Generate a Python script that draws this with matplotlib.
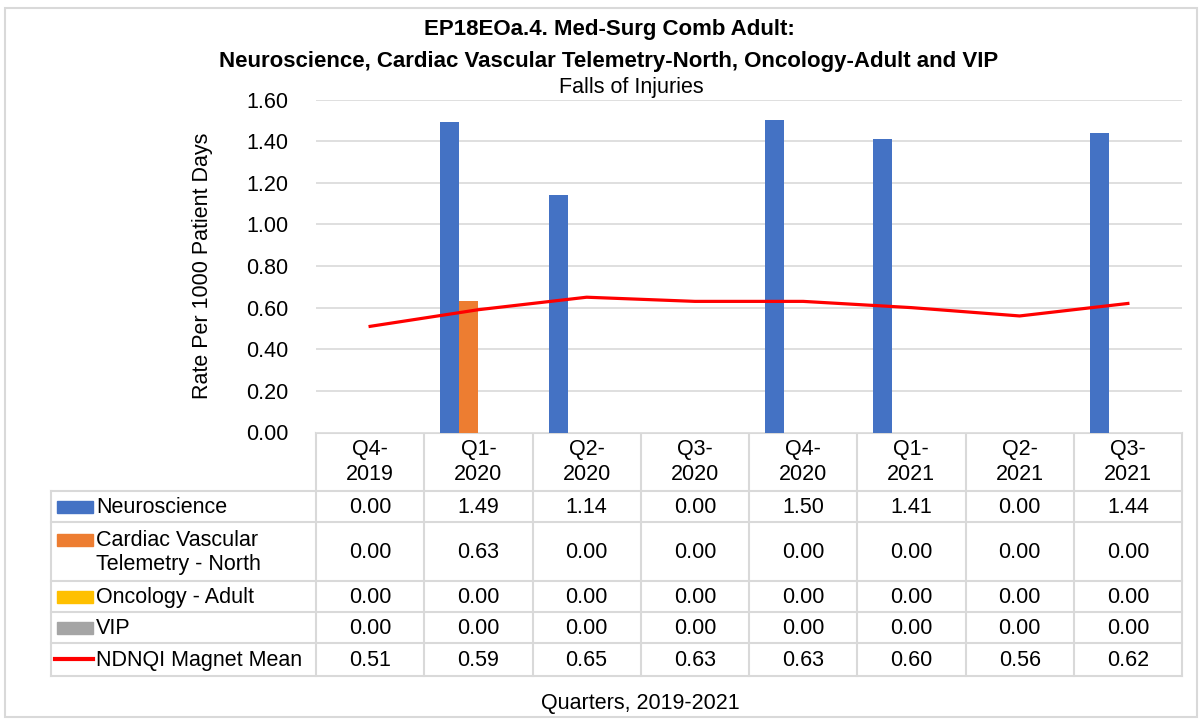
import matplotlib
matplotlib.use("Agg")
import matplotlib.pyplot as plt
import numpy as np

plt.rcParams['font.family'] = ['Liberation Sans', 'DejaVu Sans']

quarters = ["Q4-\n2019", "Q1-\n2020", "Q2-\n2020", "Q3-\n2020",
            "Q4-\n2020", "Q1-\n2021", "Q2-\n2021", "Q3-\n2021"]
neuro = [0.00, 1.49, 1.14, 0.00, 1.50, 1.41, 0.00, 1.44]
cardiac = [0.00, 0.63, 0.00, 0.00, 0.00, 0.00, 0.00, 0.00]
oncology = [0.00, 0.00, 0.00, 0.00, 0.00, 0.00, 0.00, 0.00]
vip = [0.00, 0.00, 0.00, 0.00, 0.00, 0.00, 0.00, 0.00]
ndnqi = [0.51, 0.59, 0.65, 0.63, 0.63, 0.60, 0.56, 0.62]

series_names = ["Neuroscience", "Cardiac Vascular\nTelemetry - North",
                "Oncology - Adult", "VIP", "NDNQI Magnet Mean"]
bar_colors = ["#4472C4", "#ED7D31", "#FFC000", "#A5A5A5"]
line_color = "#FF0000"
grid_col = "#D9D9D9"
fs = 15.5

W, H = 1203, 720
fig = plt.figure(figsize=(W / 100, H / 100), dpi=100)

# pixel layout
px_left, px_right = 316, 1182
px_top, px_bot = 99.5, 432.5

def fx(x):
    return x / W

def fy(y):
    return 1 - y / H

ax = fig.add_axes([fx(px_left), fy(px_bot), fx(px_right - px_left), (px_bot - px_top) / H])
x = np.arange(len(quarters))
bw = 0.176
for i, (vals, c) in enumerate(zip([neuro, cardiac, oncology, vip], bar_colors)):
    ax.bar(x + (i - 1.5) * bw, vals, width=bw, color=c, zorder=3)
ax.plot(x, ndnqi, color=line_color, lw=2.3, zorder=4)
ax.set_xlim(-0.5, len(quarters) - 0.5)
ax.set_ylim(0, 1.6)
ax.set_yticks(np.arange(0, 1.61, 0.2))
ax.set_yticklabels(["%.2f" % v for v in np.arange(0, 1.61, 0.2)], fontsize=fs)
ax.set_xticks([])
ax.grid(axis='y', color=grid_col, lw=1.2, zorder=0)
for s in ax.spines.values():
    s.set_visible(False)
ax.tick_params(axis='y', length=0, pad=20)
ax.set_ylabel("Rate Per 1000 Patient Days", fontsize=fs, labelpad=24)

# data table under the plot, in pixel coordinates
tax = fig.add_axes([0, 0, 1, 1], zorder=-1)
tax.set_xlim(0, W)
tax.set_ylim(H, 0)
tax.axis('off')

col_w = (px_right - px_left) / len(quarters)
row_y = [491, 522, 581, 612, 643, 676]
tab_left = 51

for yy in row_y:
    tax.plot([tab_left, px_right], [yy, yy], color=grid_col, lw=1.5)
tax.plot([px_left, px_right], [px_bot, px_bot], color=grid_col, lw=1.5)
tax.plot([tab_left, tab_left], [row_y[0], row_y[-1]], color=grid_col, lw=1.5)
for i in range(len(quarters) + 1):
    xx = px_left + i * col_w
    tax.plot([xx, xx], [px_bot, row_y[-1]], color=grid_col, lw=1.5)

for i, q in enumerate(quarters):
    tax.text(px_left + (i + 0.5) * col_w, 462, q, ha='center', va='center',
             fontsize=fs, linespacing=1.25)

all_vals = [neuro, cardiac, oncology, vip, ndnqi]
for r, vals in enumerate(all_vals):
    cy = (row_y[r] + row_y[r + 1]) / 2
    for i, v in enumerate(vals):
        tax.text(px_left + (i + 0.5) * col_w, cy + 1, "%.2f" % v, ha='center',
                 va='center', fontsize=fs)
    if r < 4:
        ky = cy if r != 1 else cy - 12
        tax.add_patch(plt.Rectangle((57, ky - 6), 36, 12, color=bar_colors[r]))
    else:
        ky = cy - 1
        tax.plot([55, 93], [ky, ky], color=line_color, lw=3)
    tax.text(96, cy + 1, series_names[r], ha='left', va='center', fontsize=fs,
             linespacing=1.2)

# titles
fig.text(fx(609), fy(30), "EP18EOa.4. Med-Surg Comb Adult:", ha='center', va='center',
         fontsize=16, fontweight='bold')
fig.text(fx(609), fy(61), "Neuroscience, Cardiac Vascular Telemetry-North, Oncology-Adult and VIP",
         ha='center', va='center', fontsize=16, fontweight='bold')
fig.text(fx(631), fy(87), "Falls of Injuries", ha='center', va='center', fontsize=fs)
fig.text(fx(640), fy(703), "Quarters, 2019-2021", ha='center', va='center', fontsize=fs)

# outer border
tax.add_patch(plt.Rectangle((5, 8), 1192, 709, fill=False, edgecolor=grid_col, lw=1.5))

fig.savefig("out.png", dpi=100, facecolor='white')
